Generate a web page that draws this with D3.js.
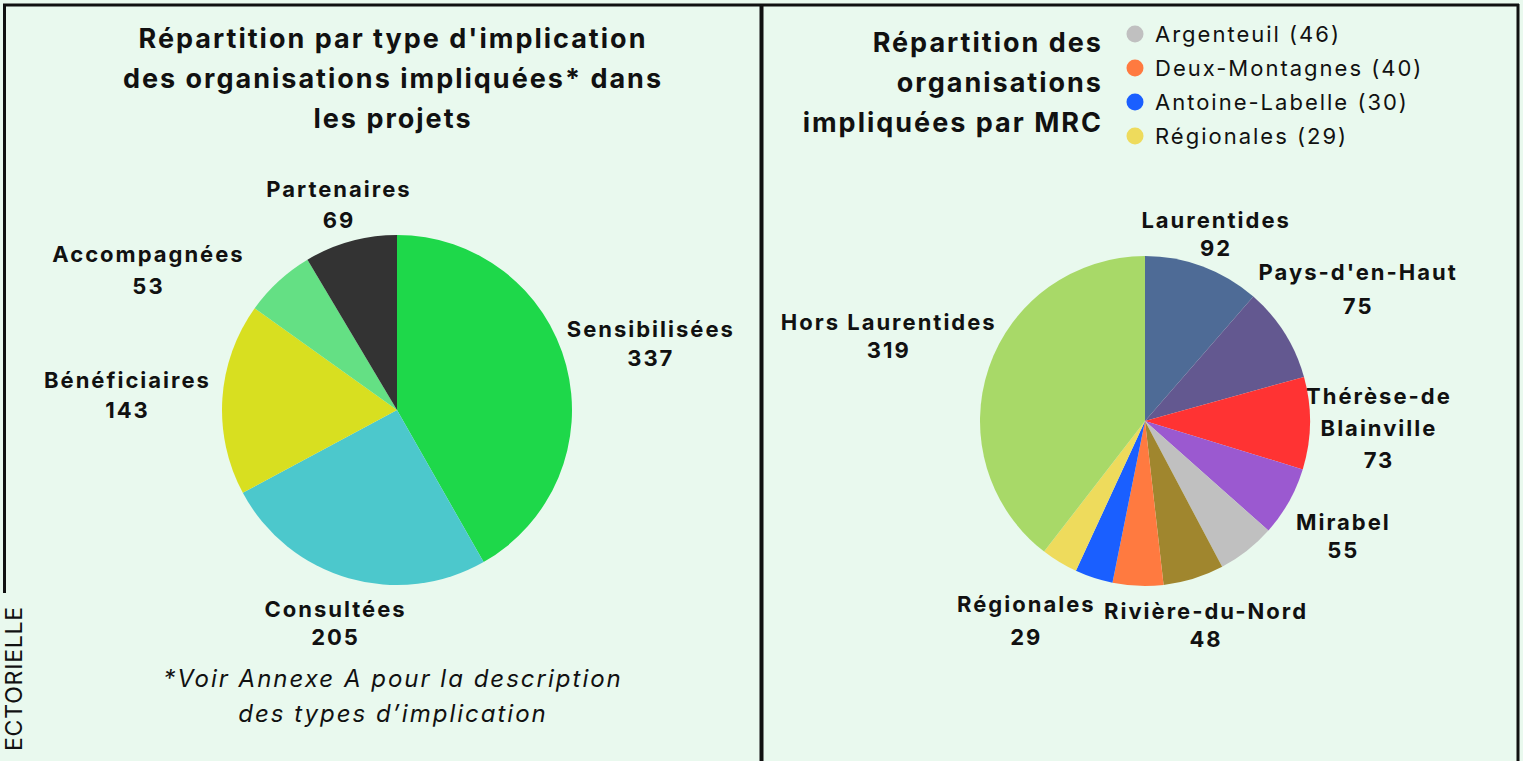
<!DOCTYPE html>
<html>
<head>
<meta charset="utf-8">
<script src="https://cdn.jsdelivr.net/npm/d3@7"></script>
<style>
  html, body { margin: 0; padding: 0; background: #e9f9ee; }
  svg { display: block; font-family: Inter, "Open Sans", sans-serif; }
</style>
</head>
<body>
<div id="chart"></div>
<script>
// left chart: type d'implication
const typeLabels = ['Sensibilisées', 'Consultées', 'Bénéficiaires', 'Accompagnées', 'Partenaires']
const typeValues = [337, 205, 143, 53, 69]
const typeColors = ['#1ed84a', '#4cc8cc', '#d8df20', '#64e084', '#333333']

// right chart: MRC
const mrcLabels = ['Laurentides', 'Pays-d\'en-Haut', 'Thérèse-de Blainville', 'Mirabel', 'Argenteuil',
  'Rivière-du-Nord', 'Deux-Montagnes', 'Antoine-Labelle', 'Régionales', 'Hors Laurentides']
const mrcValues = [92, 75, 73, 55, 46, 48, 40, 30, 29, 319]
const mrcColors = ['#4e6b96', '#635890', '#ff3333', '#9b59d0', '#c0c0c0',
  '#a0862e', '#ff7a40', '#1a5fff', '#eedb5c', '#a8d968']

// legend (small slices without labels on the pie)
const legendNames = ['Argenteuil', 'Deux-Montagnes', 'Antoine-Labelle', 'Régionales']

const W = 1523, H = 761
const SPACING = 2

const svg = d3.select('#chart').append('svg')
  .attr('width', W)
  .attr('height', H)

svg.append('rect').attr('width', W).attr('height', H).attr('fill', '#e9f9ee')

// frames
const frame = svg.append('g').attr('stroke', '#111').attr('fill', 'none')
frame.append('line').attr('x1', 3).attr('x2', 1519).attr('y1', 5).attr('y2', 5).attr('stroke-width', 3)
frame.append('line').attr('x1', 4.5).attr('x2', 4.5).attr('y1', 4).attr('y2', 593).attr('stroke-width', 3)
frame.append('line').attr('x1', 761.5).attr('x2', 761.5).attr('y1', 4).attr('y2', H).attr('stroke-width', 4)
frame.append('line').attr('x1', 1518).attr('x2', 1518).attr('y1', 4).attr('y2', H).attr('stroke-width', 3)

svg.append('text')
  .attr('transform', 'translate(22,606) rotate(-90)')
  .attr('text-anchor', 'end')
  .attr('font-size', 23)
  .attr('letter-spacing', 0.8)
  .attr('fill', '#111')
  .text('ECTORIELLE')

function multiLine(g, lines, x, y0, gap, opts) {
  const t = g.append('text')
    .attr('text-anchor', opts.anchor || 'middle')
    .attr('font-size', opts.size)
    .attr('font-weight', opts.weight || 700)
    .attr('font-style', opts.style || 'normal')
    .attr('letter-spacing', SPACING)
    .attr('fill', '#111')
  lines.forEach((l, i) => {
    t.append('tspan').attr('x', x).attr('y', y0 + i * gap)
      .attr('dominant-baseline', 'central').text(l)
  })
}

function drawPie(opts) {
  const g = svg.append('g').attr('transform', `translate(${opts.cx},${opts.cy})`)
  const data = opts.labels.map((d, i) => ({ name: d, value: opts.values[i], color: opts.colors[i] }))
  const pie = d3.pie().sort(null).value(d => d.value)
  const arc = d3.arc().innerRadius(0).outerRadius(opts.r)
  const labelArc = d3.arc().innerRadius(opts.lr).outerRadius(opts.lr)
  const arcs = pie(data)

  g.selectAll('path.slice')
    .data(arcs)
    .enter().append('path')
    .attr('class', 'slice')
    .attr('d', arc)
    .attr('fill', d => d.data.color)

  arcs.forEach(a => {
    const nudge = opts.nudges[a.data.name]
    if (!nudge) return
    const [x, y] = labelArc.centroid(a)
    const lines = (nudge.lines || [a.data.name]).concat([String(a.data.value)])
    const gap = nudge.gap || 30
    const y0 = y + nudge.dy - gap * (lines.length - 1) / 2
    multiLine(g, lines, x + nudge.dx, y0, gap, { size: 22 })
  })
}

drawPie({
  cx: 397, cy: 410, r: 175, lr: 215,
  labels: typeLabels, values: typeValues, colors: typeColors,
  nudges: {
    'Sensibilisées': { dx: 46, dy: -11, gap: 29 },
    'Consultées': { dx: -2, dy: 6, gap: 28 },
    'Bénéficiaires': { dx: -55, dy: -1, gap: 30 },
    'Accompagnées': { dx: -103, dy: 18, gap: 32 },
    'Partenaires': { dx: -1, dy: 2, gap: 31 }
  }
})

drawPie({
  cx: 1145, cy: 421, r: 165, lr: 200,
  labels: mrcLabels, values: mrcValues, colors: mrcColors,
  nudges: {
    'Laurentides': { dx: 1, dy: 0, gap: 28 },
    'Pays-d\'en-Haut': { dx: 44, dy: -25, gap: 34 },
    'Thérèse-de Blainville': { dx: 34, dy: 4, gap: 32, lines: ['Thérèse-de', 'Blainville'] },
    'Mirabel': { dx: 24, dy: 17, gap: 28 },
    'Rivière-du-Nord': { dx: 2, dy: 13, gap: 28 },
    'Régionales': { dx: -15, dy: 28, gap: 33 },
    'Hors Laurentides': { dx: -67, dy: -20, gap: 28 }
  }
})

// titles
multiLine(svg, ['Répartition par type d\'implication', 'des organisations impliquées* dans', 'les projets'],
  393, 38, 40, { size: 27 })
multiLine(svg, ['Répartition des', 'organisations', 'impliquées par MRC'],
  1103, 42, 40, { size: 27, anchor: 'end' })

// footnote
multiLine(svg, ['*Voir Annexe A pour la description', 'des types d\u2019implication'],
  393, 678, 35, { size: 24, weight: 400, style: 'italic' })

// legend
const legend = svg.append('g')
legendNames.forEach((name, i) => {
  const idx = mrcLabels.indexOf(name)
  const y = 34 + i * 34
  legend.append('circle').attr('cx', 1135).attr('cy', y).attr('r', 8.5).attr('fill', mrcColors[idx])
  legend.append('text').attr('x', 1155).attr('y', y)
    .attr('dominant-baseline', 'central')
    .attr('font-size', 22)
    .attr('letter-spacing', SPACING)
    .attr('fill', '#111')
    .text(`${name} (${mrcValues[idx]})`)
})
</script>
</body>
</html>
